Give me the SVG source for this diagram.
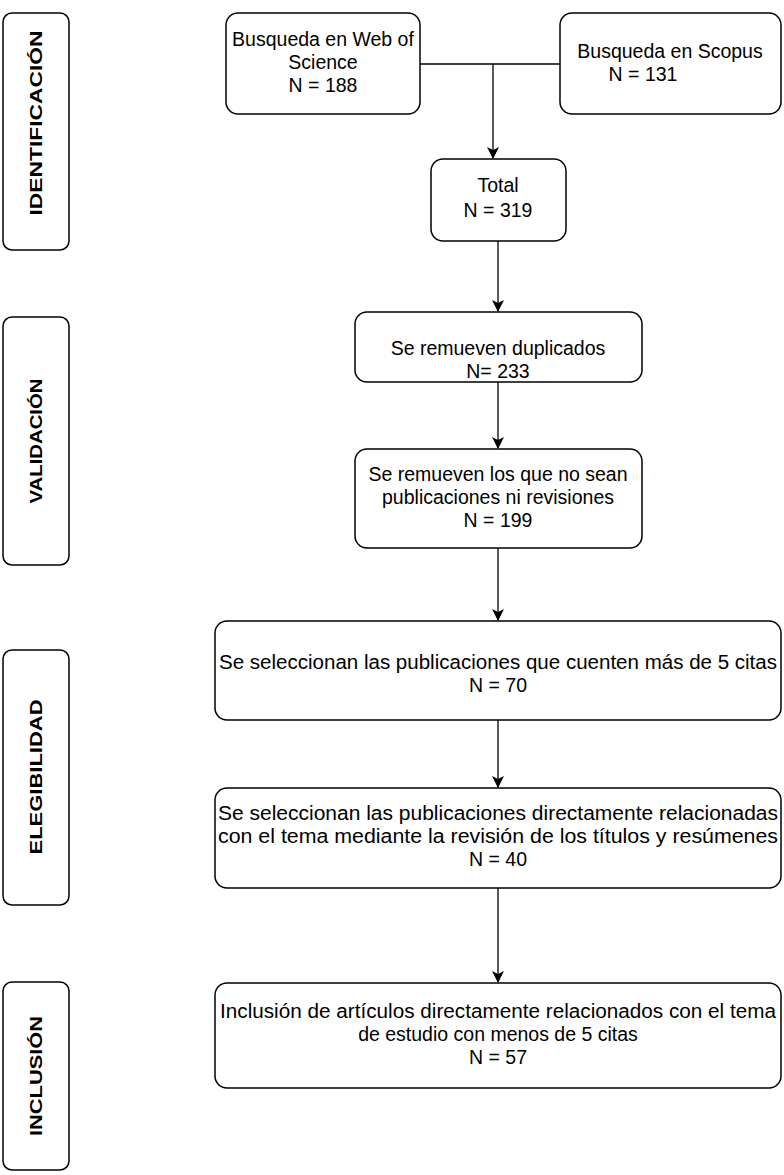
<svg xmlns="http://www.w3.org/2000/svg" width="784" height="1175" viewBox="0 0 784 1175">
<style>
.b{fill:#fff;stroke:#000;stroke-width:1.5}
.t{font-family:"Liberation Sans",Arial,sans-serif;font-size:19.5px;text-anchor:middle;fill:#000}
.s{font-family:"Liberation Sans",Arial,sans-serif;font-size:17px;font-weight:bold;text-anchor:middle;fill:#000}
.c{fill:none;stroke:#000;stroke-width:1.3}
</style>
<defs><marker id="a" markerWidth="12" markerHeight="12" refX="11" refY="6" orient="auto" markerUnits="userSpaceOnUse"><path d="M0,0 L12,6 L0,12 L3,6 Z" fill="#000"/></marker></defs>
<rect width="784" height="1175" fill="#fff"/>
<g id="lbl-ident"><rect class="b" x="3" y="13" width="66" height="237" rx="9"/><text class="s" transform="translate(42,123) rotate(-90)" textLength="185" lengthAdjust="spacingAndGlyphs">IDENTIFICACIÓN</text></g>
<g id="lbl-valid"><rect class="b" x="3" y="317" width="66" height="248" rx="9"/><text class="s" transform="translate(42,441) rotate(-90)" textLength="125" lengthAdjust="spacingAndGlyphs">VALIDACIÓN</text></g>
<g id="lbl-eleg"><rect class="b" x="3" y="650" width="66" height="255" rx="9"/><text class="s" transform="translate(42,777) rotate(-90)" textLength="155" lengthAdjust="spacingAndGlyphs">ELEGIBILIDAD</text></g>
<g id="lbl-incl"><rect class="b" x="3" y="982" width="66" height="188" rx="9"/><text class="s" transform="translate(42,1076) rotate(-90)" textLength="120" lengthAdjust="spacingAndGlyphs">INCLUSIÓN</text></g>
<g id="wos"><rect class="b" x="226" y="13" width="194" height="101" rx="12"/><text class="t" x="323" y="46">Busqueda en Web of</text><text class="t" x="323" y="69">Science</text><text class="t" x="323" y="92">N = 188</text></g>
<g id="scopus"><rect class="b" x="560" y="13" width="221" height="101" rx="12"/><text class="t" x="670" y="58">Busqueda en Scopus</text><text class="t" x="643" y="81">N = 131</text></g>
<g id="total"><rect class="b" x="431" y="159" width="135" height="82" rx="12"/><text class="t" x="498" y="192">Total</text><text class="t" x="498" y="217">N = 319</text></g>
<g id="dup"><rect class="b" x="355" y="312" width="287" height="70" rx="12"/><text class="t" x="498" y="355">Se remueven duplicados</text><text class="t" x="498" y="378">N= 233</text></g>
<g id="nosean"><rect class="b" x="355" y="449" width="287" height="99" rx="12"/><text class="t" x="498" y="481">Se remueven los que no sean</text><text class="t" x="498" y="504">publicaciones ni revisiones</text><text class="t" x="498" y="527">N = 199</text></g>
<g id="citas"><rect class="b" x="215" y="621" width="566" height="99" rx="12"/><text class="t" x="498" y="669" textLength="558" lengthAdjust="spacingAndGlyphs">Se seleccionan las publicaciones que cuenten más de 5 citas</text><text class="t" x="498" y="692">N = 70</text></g>
<g id="relac"><rect class="b" x="215" y="788" width="566" height="100" rx="12"/><text class="t" x="498" y="820" textLength="560" lengthAdjust="spacingAndGlyphs">Se seleccionan las publicaciones directamente relacionadas</text><text class="t" x="498" y="843" textLength="560" lengthAdjust="spacingAndGlyphs">con el tema mediante la revisión de los títulos y resúmenes</text><text class="t" x="498" y="866">N = 40</text></g>
<g id="incl"><rect class="b" x="215" y="983" width="566" height="105" rx="12"/><text class="t" x="498" y="1018" textLength="556" lengthAdjust="spacingAndGlyphs">Inclusión de artículos directamente relacionados con el tema</text><text class="t" x="498" y="1041">de estudio con menos de 5 citas</text><text class="t" x="498" y="1064">N = 57</text></g>
<g id="connectors">
<path class="c" d="M420,64 H560"/>
<path class="c" d="M493,64 V158" marker-end="url(#a)"/>
<path class="c" d="M498,241 V311" marker-end="url(#a)"/>
<path class="c" d="M498,382 V448" marker-end="url(#a)"/>
<path class="c" d="M498,548 V620" marker-end="url(#a)"/>
<path class="c" d="M498,720 V787" marker-end="url(#a)"/>
<path class="c" d="M498,888 V982" marker-end="url(#a)"/>
</g>
</svg>
